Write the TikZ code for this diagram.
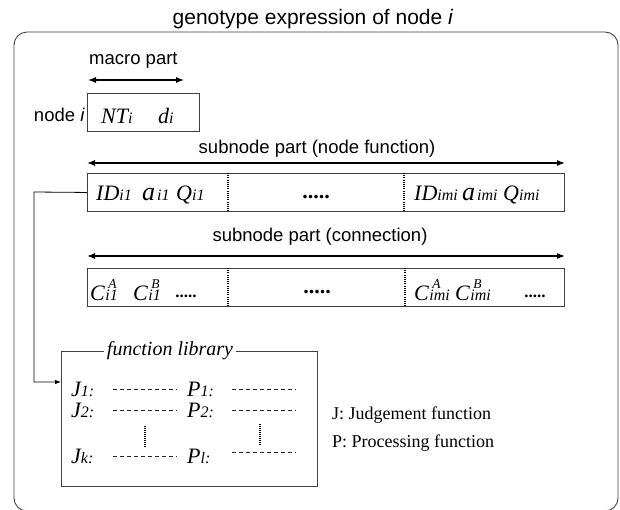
\documentclass[tikz,border=0pt]{standalone}
\usepackage{fontspec}
\setmainfont{Liberation Serif}
\setsansfont{Liberation Sans}
\usetikzlibrary{arrows.meta}
\newcommand\ssub[1]{{\fontsize{16}{16}\selectfont #1}}
\newcommand\supsub[2]{\rlap{\kern3.5pt\raisebox{11.5pt}{\fontsize{13.5}{14}\selectfont #1}}{\fontsize{16}{16}\selectfont\kern0.5pt #2}}
\begin{document}
\begin{tikzpicture}[x=1pt,y=-1pt,
  lbl/.style={font=\sffamily\fontsize{18.5}{20}\selectfont, inner sep=0},
  mth/.style={font=\fontsize{22}{24}\selectfont\itshape, inner sep=0},
  leg/.style={font=\fontsize{18}{20}\selectfont, inner sep=0},
  boxline/.style={draw=black!75, line width=0.9pt},
  divider/.style={draw=black, line width=1.1pt, dash pattern=on 1pt off 1.2pt},
  dimarrow/.style={{Latex[length=8pt,width=6pt]}-{Latex[length=8pt,width=6pt]}, line width=1.2pt},
  dashfield/.style={draw=black!85, line width=0.8pt, dash pattern=on 4pt off 3pt},
  vdots/.style={draw=black, line width=1.1pt, dash pattern=on 1pt off 1pt},
  bigdots/.style={font=\fontsize{22}{24}\selectfont\bfseries, inner sep=0, anchor=base},
  smalldots/.style={font=\fontsize{17}{18}\selectfont\bfseries, inner sep=0, anchor=base},
  ]
\useasboundingbox (0,0) rectangle (620,509);
% outer box
\draw[boxline, rounded corners=13pt] (14,32) rectangle (618,511);
\node[font=\sffamily\fontsize{21}{24}\selectfont, inner sep=0] (title) at (313,19) {genotype expression of node \textit{i}};

% macro part
\node[lbl, anchor=west] (macro) at (89,60) {macro part};
\coordinate (ma) at (88,80); \coordinate (mb) at (184,80);
\draw[dimarrow] (ma) -- (mb);
\node[lbl, anchor=east] (nodei) at (85,115) {node \textit{i}};
\node[boxline, minimum width=112pt, minimum height=38pt, anchor=north west, inner sep=0] (nbox) at (87,93) {};
\node[mth, anchor=base west] (nt) at (101,123) {NT\ssub{i}};
\node[mth, anchor=base west] (d) at (158,123) {d\ssub{i}};

% subnode part (node function)
\node[lbl] (sub1) at (317,149) {subnode part (node function)};
\coordinate (s1a) at (87,163); \coordinate (s1b) at (565,163);
\draw[dimarrow] (s1a) -- (s1b);
\node[boxline, minimum width=477pt, minimum height=38pt, anchor=north west, inner sep=0] (box1) at (87,173) {};
\coordinate (d1t) at (228,173); \coordinate (d1b) at (228,211);
\coordinate (d2t) at (404,173); \coordinate (d2b) at (404,211);
\draw[divider] (d1t) -- (d1b);
\draw[divider] (d2t) -- (d2b);
\node[mth, anchor=base west] (id1) at (96,200) {ID\ssub{i1}};
\node[mth, font=\fontsize{26}{26}\selectfont\itshape, anchor=base west] (a1) at (142,200) {a};
\node[mth, font=\fontsize{16}{16}\selectfont\itshape, anchor=base west] (a1s) at (157,200) {i1};
\node[mth, anchor=base west] (q1) at (176,200) {Q\ssub{i1}};
\node[bigdots] (dots1) at (316,198) {.....};
\node[mth, anchor=base west] (idm) at (414,200) {ID\ssub{imi}};
\node[mth, font=\fontsize{26}{26}\selectfont\itshape, anchor=base west] (am) at (462,200) {a};
\node[mth, font=\fontsize{16}{16}\selectfont\itshape, anchor=base west] (ams) at (477,200) {imi};
\node[mth, anchor=base west] (qm) at (503,200) {Q\ssub{imi}};

% subnode part (connection)
\node[lbl] (sub2) at (320,237) {subnode part (connection)};
\coordinate (s2a) at (87,256); \coordinate (s2b) at (565,256);
\draw[dimarrow] (s2a) -- (s2b);
\node[boxline, minimum width=477pt, minimum height=38pt, anchor=north west, inner sep=0] (box2) at (87,268) {};
\coordinate (e1t) at (228,268); \coordinate (e1b) at (228,306);
\coordinate (e2t) at (405,268); \coordinate (e2b) at (405,306);
\draw[divider] (e1t) -- (e1b);
\draw[divider] (e2t) -- (e2b);
\node[mth, anchor=base west] (c1) at (90,300) {C\supsub{A}{i1}};
\node[mth, anchor=base west] (c2) at (133,300) {C\supsub{B}{i1}};
\node[smalldots] (cd1) at (186,297) {.....};
\node[bigdots] (dots2) at (317,293) {.....};
\node[mth, anchor=base west] (c3) at (414,300) {C\supsub{A}{imi}};
\node[mth, anchor=base west] (c4) at (455,300) {C\supsub{B}{imi}};
\node[smalldots] (cd2) at (535,297) {.....};

% function library
\node[draw=black!75, line width=0.8pt, minimum width=256pt, minimum height=135pt, anchor=north west, inner sep=0] (lib) at (61,351) {};
\node[fill=white, inner xsep=3pt, inner ysep=0, font=\fontsize{20}{22}\selectfont\itshape] (libtitle) at (170,351) {function library};
\coordinate (bend1) at (34,192);
\coordinate (bend2) at (34,382);
\coordinate (libin) at (61,382);
\draw[line width=0.8pt, -{Latex[length=6pt,width=4.5pt]}] (box1.west) -- (bend1) -- (bend2) -- (libin);

\node[mth, anchor=base west] (j1) at (71,396) {J\ssub{1:}};
\node[mth, anchor=base west] (j2) at (71,417) {J\ssub{2:}};
\node[mth, anchor=base west] (jk) at (71,463) {J\ssub{k:}};
\node[mth, anchor=base west] (p1) at (187,396) {P\ssub{1:}};
\node[mth, anchor=base west] (p2) at (187,417) {P\ssub{2:}};
\node[mth, anchor=base west] (pl) at (187,463) {P\ssub{l:}};
\coordinate (ja1) at (113,389); \coordinate (jb1) at (177,389);
\coordinate (ja2) at (113,410); \coordinate (jb2) at (177,410);
\coordinate (ja3) at (113,456); \coordinate (jb3) at (177,456);
\coordinate (pa1) at (232,389); \coordinate (pb1) at (296,389);
\coordinate (pa2) at (232,410); \coordinate (pb2) at (296,410);
\coordinate (pa3) at (232,452); \coordinate (pb3) at (296,452);
\draw[dashfield] (ja1) -- (jb1); \draw[dashfield] (ja2) -- (jb2); \draw[dashfield] (ja3) -- (jb3);
\draw[dashfield] (pa1) -- (pb1); \draw[dashfield] (pa2) -- (pb2); \draw[dashfield] (pa3) -- (pb3);
\coordinate (v1t) at (145,426); \coordinate (v1b) at (145,447);
\coordinate (v2t) at (260,424); \coordinate (v2b) at (260,446);
\draw[vdots] (v1t) -- (v1b);
\draw[vdots] (v2t) -- (v2b);

% legend
\node[leg, anchor=west] (legj) at (332,415) {J: Judgement function};
\node[leg, anchor=west] (legp) at (332,443) {P: Processing function};
\end{tikzpicture}
\end{document}
